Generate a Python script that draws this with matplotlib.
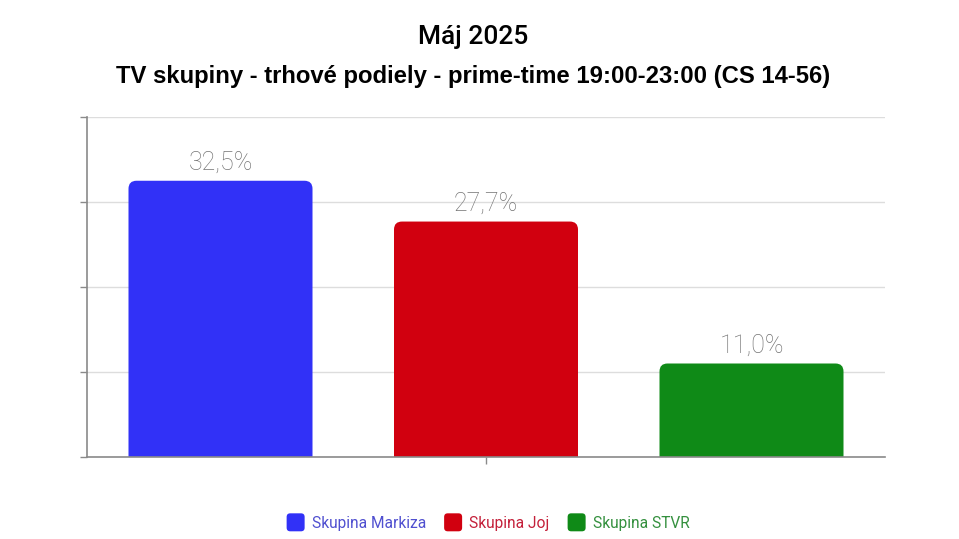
import matplotlib
matplotlib.use("Agg")
import matplotlib.pyplot as plt
from matplotlib.patches import FancyBboxPatch, Patch
from matplotlib.legend_handler import HandlerPatch

title = "Máj 2025"
subtitle = "TV skupiny - trhové podiely - prime-time 19:00-23:00 (CS 14-56)"
groups = ["Skupina Markiza", "Skupina Joj", "Skupina STVR"]
values = [32.5, 27.7, 11.0]
labels = ["32,5%", "27,7%", "11,0%"]
colors = ["#3131f7", "#d1000f", "#0f8a17"]
text_colors = ["#5050d0", "#c4203a", "#34903e"]

W, H = 959, 539
fig = plt.figure(figsize=(W / 100, H / 100), dpi=100)
ax = fig.add_axes([87 / W, 1 - 457 / H, (885 - 87) / W, (457 - 117) / H])
ax.set_xlim(-0.5, 0.5)
ax.set_ylim(0, 40)

slot = 265.5 / 798
bw = 184 / 798
n = len(values)
xs = [(i - (n - 1) / 2) * slot for i in range(n)]
bars = ax.bar(xs, values, width=bw, color=colors, zorder=3)

# rounded top corners (bottom corners pushed below the axis and clipped)
px_x = 1 / 798
px_y = 40 / 340
r_px = 8
for b, c in zip(bars, colors):
    b.set_visible(False)
    x0, w, h = b.get_x(), b.get_width(), b.get_height()
    fb = FancyBboxPatch((x0, -5), w, h + 5,
                        boxstyle=f"round,pad=0,rounding_size={r_px * px_x}",
                        mutation_aspect=px_y / px_x, fc=c, ec="none", zorder=3)
    ax.add_patch(fb)
    fb.set_clip_on(True)

for x, v, lab in zip(xs, values, labels):
    ax.annotate(lab, (x, v), xytext=(0, 4), textcoords="offset points",
                ha="center", va="bottom", fontsize=18, color="#747474",
                family=["Roboto", "DejaVu Sans"], fontweight="light", zorder=4)

ax.set_yticks([0, 10, 20, 30, 40])
ax.set_yticklabels([])
ax.set_xticks([0])
ax.set_xticklabels([])
ax.grid(axis="y", color="#dddddd", linewidth=1, zorder=0)
for s in ["top", "right"]:
    ax.spines[s].set_visible(False)
for s in ["left", "bottom"]:
    ax.spines[s].set_color("#8a8a8a")
    ax.spines[s].set_linewidth(1.2)
    ax.spines[s].set_zorder(5)
ax.tick_params(axis="y", length=5, color="#8a8a8a", width=1)
ax.tick_params(axis="x", length=5, color="#8a8a8a", width=1)

fig.text(473 / W, 1 - 37 / H, title, ha="center", va="center", fontsize=19,
         family=["Roboto", "DejaVu Sans"], fontweight="medium")
fig.text(473 / W, 1 - 77 / H, subtitle, ha="center", va="center", fontsize=17.2,
         family=["Liberation Sans", "DejaVu Sans"], fontweight="bold")


class RoundHandler(HandlerPatch):
    def create_artists(self, legend, orig_handle, xdescent, ydescent, width,
                       height, fontsize, trans):
        s = 18 * 72 / 100
        x = (width - s) / 2 - xdescent
        y = (height - s) / 2 - ydescent
        p = FancyBboxPatch((x, y), s, s, boxstyle=f"round,pad=0,rounding_size={s*0.2}",
                           fc=orig_handle.get_facecolor(), ec="none", transform=trans)
        return [p]


handles = [Patch(color=c, label=g) for c, g in zip(colors, groups)]
leg = fig.legend(handles=handles, loc="center", bbox_to_anchor=(488 / W, 1 - 523 / H),
                 ncol=3, frameon=False, handlelength=1.18,
                 handleheight=1.0, handletextpad=0.45, columnspacing=1.15,
                 borderpad=0, handler_map={Patch: RoundHandler()},
                 prop={"family": ["Roboto", "DejaVu Sans"], "size": 11.2})
for t, c in zip(leg.get_texts(), text_colors):
    t.set_color(c)

fig.savefig("out.png", dpi=100)
